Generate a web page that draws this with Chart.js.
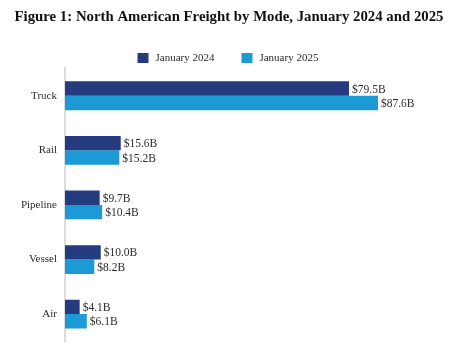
<!DOCTYPE html>
<html>
<head>
<meta charset="utf-8">
<script src="https://cdn.jsdelivr.net/npm/chart.js@4.4.1/dist/chart.umd.min.js"></script>
<style>
html,body{margin:0;padding:0;background:#fff;}
#wrap{width:468px;height:356px;position:relative;}
</style>
</head>
<body>
<div id="wrap"><canvas id="c"></canvas></div>
<script>
const categories = ["Truck", "Rail", "Pipeline", "Vessel", "Air"];
const jan2024 = [79.5, 15.6, 9.7, 10.0, 4.1];
const jan2025 = [87.6, 15.2, 10.4, 8.2, 6.1];
const seriesNames = ["January 2024", "January 2025"];

const serif = "'Liberation Serif', 'Times New Roman', serif";

const labelPlugin = {
  id: 'barLabels',
  afterDatasetsDraw(chart) {
    const ctx = chart.ctx;
    ctx.save();
    ctx.font = "11.5px " + serif;
    ctx.fillStyle = "#2b2b2b";
    ctx.textAlign = "left";
    ctx.textBaseline = "middle";
    chart.data.datasets.forEach((ds, di) => {
      const meta = chart.getDatasetMeta(di);
      meta.data.forEach((bar, i) => {
        ctx.fillText("$" + ds.data[i].toFixed(1) + "B", bar.x + 3, bar.y + 1);
      });
    });
    ctx.restore();
  }
};

// Custom legend row: box 11x10, 7px gap to text, 27px between items
const legendPlugin = {
  id: 'customLegend',
  afterDraw(chart) {
    const ctx = chart.ctx;
    ctx.save();
    ctx.font = "11px " + serif;
    ctx.textBaseline = "middle";
    ctx.textAlign = "left";
    const boxW = 11, boxH = 10, gap = 7, itemGap = 27, cy = 58;
    const items = chart.data.datasets.map(ds => ({ text: ds.label, color: ds.backgroundColor, w: ctx.measureText(ds.label).width }));
    let x = 137.5;
    items.forEach(it => {
      ctx.fillStyle = it.color;
      ctx.fillRect(x, cy - boxH / 2, boxW, boxH);
      x += boxW + gap;
      ctx.fillStyle = "#2b2b2b";
      ctx.fillText(it.text, x, cy + 0.5);
      x += it.w + itemGap;
    });
    ctx.restore();
  }
};

new Chart(document.getElementById('c'), {
  type: 'bar',
  data: {
    labels: categories,
    datasets: [
      { label: seriesNames[0], data: jan2024, backgroundColor: '#243b7f', borderWidth: 0 },
      { label: seriesNames[1], data: jan2025, backgroundColor: '#1b9ad6', borderWidth: 0 }
    ]
  },
  options: {
    indexAxis: 'y',
    responsive: true,
    maintainAspectRatio: false,
    animation: false,
    layout: { padding: { left: 0, right: 10, top: 0, bottom: 12 } },
    datasets: { bar: { categoryPercentage: 0.527, barPercentage: 1.0 } },
    scales: {
      x: { display: false, min: 0, max: 110 },
      y: {
        grid: { display: false, drawTicks: false },
        border: { display: true, color: '#dcdcdc', width: 2 },
        ticks: { font: { family: serif, size: 11 }, color: '#2b2b2b', padding: 8 },
        afterFit(scale) { scale.width = 65; }
      }
    },
    plugins: {
      title: {
        display: true,
        text: 'Figure 1: North American Freight by Mode, January 2024 and 2025',
        font: { family: serif, size: 14.8, weight: 'bold' },
        color: '#111',
        padding: { top: 8, bottom: 42.7 }
      },
      legend: { display: false },
      tooltip: { enabled: false }
    }
  },
  plugins: [labelPlugin, legendPlugin]
});
</script>
</body>
</html>
